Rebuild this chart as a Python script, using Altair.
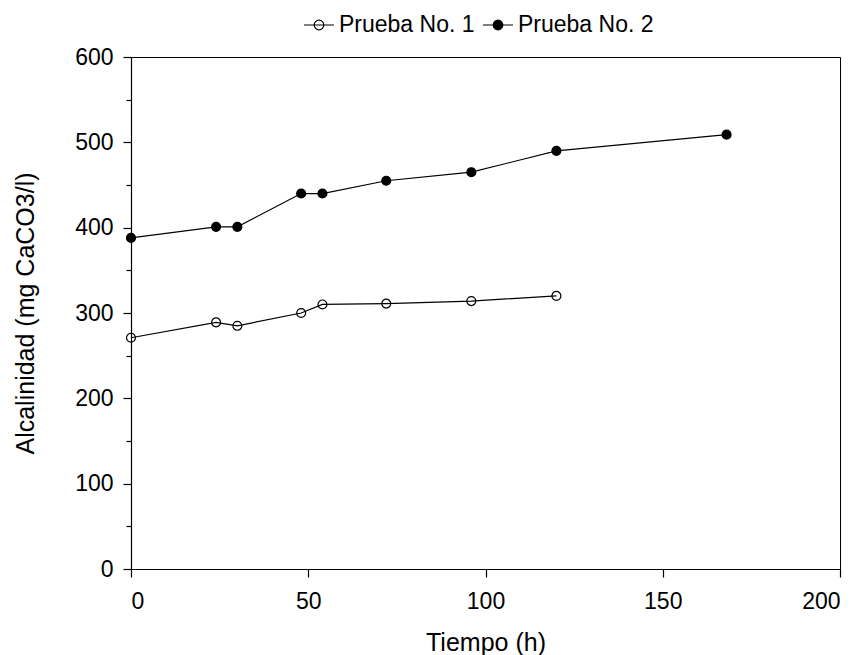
import altair as alt
import pandas as pd

t1 = [0, 24, 30, 48, 54, 72, 96, 120]
a1 = [271, 289, 285, 300, 310, 311, 314, 320]
t2 = [0, 24, 30, 48, 54, 72, 96, 120, 168]
a2 = [388, 401, 401, 440, 440, 455, 465, 490, 509]
series = ["Prueba No. 1", "Prueba No. 2"]

df = pd.DataFrame(
    [{"t": t, "a": a, "s": series[0]} for t, a in zip(t1, a1)]
    + [{"t": t, "a": a, "s": series[1]} for t, a in zip(t2, a2)]
)

FONT = "Liberation Sans"
xs = alt.Scale(domain=[0, 200], nice=False)
ys = alt.Scale(domain=[0, 600], nice=False)

legend_path = "M-1,0L1,0M-0.32,0A0.32,0.32,0,1,1,0.32,0A0.32,0.32,0,1,1,-0.32,0Z"

base = alt.Chart(df)

line = base.mark_line(color="black", strokeWidth=1.2).encode(
    x=alt.X("t:Q", scale=xs, axis=alt.Axis(
        title="Tiempo (h)", values=[0, 50, 100, 150, 200], tickSize=8,
        labelPadding=13, titlePadding=17, grid=False)),
    y=alt.Y("a:Q", scale=ys, axis=alt.Axis(
        title="Alcalinidad (mg CaCO3/l)", values=[0, 100, 200, 300, 400, 500, 600],
        tickSize=8, labelPadding=10, titlePadding=36, grid=False, orient="left")),
    detail="s:N",
)

points = base.mark_point(shape="circle", size=80, stroke="black", strokeWidth=1.2,
                         opacity=1).encode(
    x=alt.X("t:Q", scale=xs),
    y=alt.Y("a:Q", scale=ys, axis=alt.Axis(
        values=[50, 150, 250, 350, 450, 550], tickSize=5, labels=False,
        domain=False, title=None, grid=False, orient="left")),
    fill=alt.Fill("s:N", scale=alt.Scale(domain=series, range=["transparent", "black"]),
                  legend=alt.Legend(title=None, orient="none", direction="horizontal",
                                    legendX=172, legendY=-48,
                                    symbolType=legend_path, symbolSize=900,
                                    symbolStrokeColor="black", symbolStrokeWidth=1.2,
                                    labelFontSize=23, labelFont=FONT, labelColor="black",
                                    labelOffset=4, columnPadding=5)),
)

chart = alt.layer(line, points).resolve_axis(y="independent").properties(
    width=709, height=512,
    autosize=alt.AutoSizeParams(type="none"),
    padding={"left": 131, "top": 57, "right": 20, "bottom": 86},
).configure_view(stroke="black", strokeWidth=1).configure_axis(
    domainColor="black", tickColor="black", labelColor="black", titleColor="black",
    labelFont=FONT, titleFont=FONT, labelFontSize=23, titleFontSize=25,
    titleFontWeight="normal", domainWidth=1.2, tickWidth=1.2,
)

chart.save("out.html", embed_options={"renderer": "svg", "actions": False})
